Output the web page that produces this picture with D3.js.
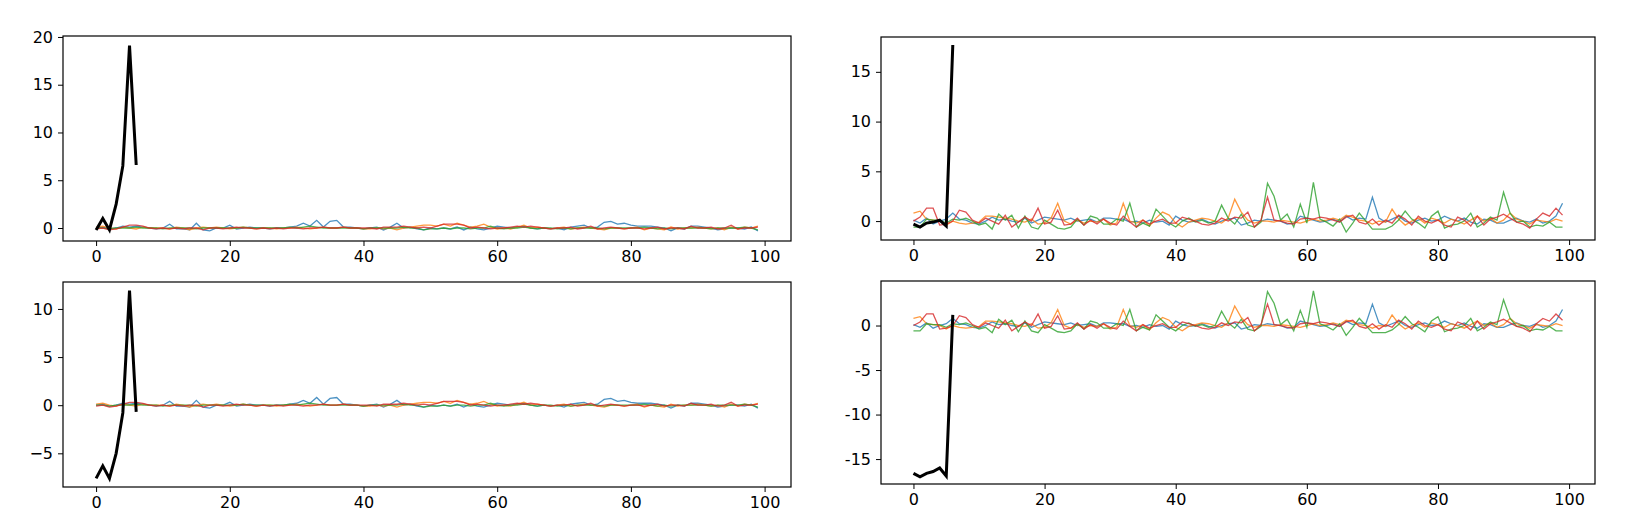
<!DOCTYPE html>
<html><head><meta charset="utf-8">
<script src="https://cdn.jsdelivr.net/npm/d3@7"></script>
<style>body{margin:0;background:#fff}text{font-family:"DejaVu Sans",sans-serif}</style>
</head><body><svg id="c" width="1636" height="526"></svg>
<script>
const xTicks=[0,20,40,60,80,100];
const blackTL=[-0.2,1.0,-0.2,2.5,6.5,19.1,6.6];
const blackTR=[-0.3,-0.6,-0.2,-0.1,0.1,-0.5,17.7];
const blackBL=[-7.6,-6.3,-7.6,-5.0,-0.8,11.9,-0.7];
const blackBR=[-16.6,-17.0,-16.6,-16.4,-16.0,-16.9,1.2];
const leftBlue=[0,0.1,-0.1,0,0.2,0.1,0.2,0.1,0,-0.1, 0,0.4,-0.1,-0.1,-0.2,0.5,-0.2,-0.3,0,0, 0.3,-0.1,0,0.1,0,0,-0.1,0,0,0.1, 0.2,0.5,0.2,0.8,0.1,0.7,0.8,0.1,0.1,0, -0.1,0,0.1,-0.2,0.1,0.5,0,0.1,-0.1,-0.2, 0,-0.1,0,-0.1,0.1,-0.2,0.1,-0.1,-0.2,0, 0.2,0.1,0,0.1,0.2,0,-0.1,0,-0.1,0, -0.2,0.1,0.2,0.3,0,0.1,0.6,0.7,0.4,0.5, 0.3,0.2,0.2,0.2,0.1,0,-0.3,0,-0.1,0.2, 0.2,0.1,0,-0.2,-0.1,0,0,-0.1,0.1,-0.3];
const leftOrange=[0.1,0.2,0,-0.1,0.1,0,-0.1,0.1,0,0, 0,-0.1,0.1,0,-0.2,0,0.1,0,0.1,0, -0.1,0,0.1,0,-0.1,0,0,-0.1,0,0, 0.1,0,-0.1,0,0.1,0,0,0.1,0,0, -0.1,-0.1,0,-0.1,0,-0.2,0,0.1,0.2,0.3, 0.3,0.2,0.4,0.2,0.5,0.3,0.1,0.2,0.4,0.1, -0.1,0,-0.1,0.1,0.3,0,0.1,0,-0.1,0, 0.1,-0.1,0,0.1,0,-0.1,-0.2,0,0,-0.1, 0,0.1,-0.2,0,-0.1,-0.2,0.1,-0.1,0,0, 0.1,0,-0.1,0,-0.2,0.1,-0.1,0.1,0,0.2];
const leftGreen=[0,0,-0.1,0,0,0,0.1,0,0,0, -0.1,0,0,0,0,-0.1,0,0,0,0, 0,0,0.1,0,0,0,0,0,0,0.1, 0,0.1,0.2,0.1,0,0,0,0,0,0, -0.1,0,0,0,0,0,0.1,0,0,-0.2, -0.1,-0.1,0,-0.1,0,0,-0.1,0,0,0.2, 0,-0.1,0,0,0.1,0,-0.1,0,0,-0.1, 0,-0.1,0,0,0,0,-0.1,0,0,0, 0,0,0.1,0,-0.1,0,-0.1,0,0,0, 0,0,-0.1,0,0,0,0,0.1,0,-0.2];
const leftRed=[-0.1,0,-0.2,-0.1,0.1,0.3,0.3,0.2,0,-0.1, 0,-0.1,0,-0.1,0,0,-0.2,0,0,-0.1, 0,0.1,0,0,-0.1,0,-0.1,0,-0.1,0, 0,-0.1,0,0,0.1,0,0,0.1,0,0, 0,0,-0.1,0.1,0.1,0.1,0.2,0.1,0,0.1, 0,0.2,0.4,0.4,0.4,0.3,0,0.1,0,-0.1, 0,0,0.1,0.2,0.1,0.2,0.1,0,-0.1,0, 0,0.1,-0.1,0,0.2,-0.1,0,0.1,0,-0.1, 0,0,-0.1,0,0.1,-0.1,0,0,-0.1,0.2, 0,0,0.1,-0.1,0,0.3,-0.1,0,0,0.1];
const rightBlue=[0.1,-0.2,0.3,-0.3,0,0.2,0.8,0.2,0.1,-0.2, -0.3,0,0.4,0.1,0.2,0,-0.1,0.3,-0.2,0.1, 0.4,0.3,0.2,0.1,0.3,0,0.1,0.2,-0.1,0.3, 0.3,0.2,0.2,-0.1,0,-0.2,0.1,-0.1,0,-0.4, 0.5,0.1,-0.1,0,0.2,-0.1,-0.3,0,0.2,0.3, -0.4,-0.2,0.1,0,0.2,0.1,0,-0.3,-0.2,0.5, 0.3,0.1,-0.1,0,0.2,-0.1,0.5,0.1,0.3,0.2, 2.4,0.3,-0.1,0.2,0.5,0,-0.2,0.1,0.3,0, 0.1,0.5,0.2,0,0.3,-0.1,-0.3,0.2,0.1,-0.2, -0.2,0.1,0.3,0,-0.1,0.2,-0.2,0,0.5,1.8];
const rightOrange=[0.8,1.0,0.2,0.1,0,-0.4,0,-0.2,-0.3,-0.2, -0.1,0.5,0.5,0.4,0.3,0.2,0,-0.1,0.2,-0.3, -0.2,0.3,1.8,0,-0.3,0.1,-0.2,0,-0.1,0.2, -0.4,-0.2,1.8,0,-0.2,0.1,-0.5,0.3,0.9,0.6, -0.2,-0.6,-0.1,0.1,0.3,0.2,0,-0.2,0.3,2.2, 0.9,0.1,-0.2,0,0,-0.1,0.1,0,-0.1,-0.2, 0,0.2,0,0.1,0.3,0.1,0.6,0.4,0.1,0, -0.3,0,-0.1,1.2,0.2,-0.4,0,0.3,-0.2,0.3, 0.1,-0.2,0.2,0,-0.3,0.1,0.5,0,0.3,-0.2, 0.1,0.8,0.2,0,-0.3,0.1,0,-0.1,0.2,0];
const rightGreen=[-0.6,-0.6,0.2,0.1,0.1,-0.2,0.2,0.1,0.3,0, -0.4,-0.2,-0.8,0.7,0.1,0.6,-0.7,0.5,-0.6,-0.8, 0.1,-0.3,-0.7,-0.8,-0.6,0.2,-0.4,0.5,0.3,-0.3, -0.3,0.2,0,1.8,-0.6,-0.2,-0.5,1.2,0.5,-0.2, -0.6,0,0.3,-0.1,0.1,-0.2,0,1.6,0.3,-0.3, 0.7,-0.4,-0.6,-0.1,3.8,2.5,0.1,0.7,-0.6,1.7, -0.2,3.9,0.2,-0.1,-0.5,0.2,-1.1,-0.2,0.8,0, -0.8,-0.8,-0.8,-0.5,0.1,1.0,0.2,-0.2,-0.7,0.5, 1.0,-0.7,-0.4,-0.3,0,0.8,-0.6,-0.2,0.4,0.1, 2.9,0.8,-0.1,0,-0.6,-0.4,-0.5,-0.1,-0.6,-0.6];
const rightRed=[0,0.4,1.3,1.3,-0.4,-0.3,0,1.1,0.9,0.1, -0.2,0.3,0,-0.3,0.6,-0.6,-0.1,0.4,0,1.3, -0.3,-0.1,1.1,-0.4,-0.3,0.3,-0.4,0.1,-0.3,0.2, -0.2,-0.4,0.5,-0.1,-0.6,0.1,-0.3,0,0.2,-0.2, -0.2,0.4,0.2,0,-0.3,-0.4,-0.2,0.3,0,0.4, 0.3,0.9,-0.6,0.1,2.4,0.1,0,-0.2,-0.3,0.2, 0.3,0.2,0.4,0.3,0.1,-0.1,0.4,0.6,-0.1,-0.3, 0.2,-0.4,0.1,-0.2,0.6,0.2,-0.4,0.5,0,-0.2, 0.1,-0.4,-0.6,0.4,0.1,-0.5,0.5,-0.4,0.2,0.4, 0.7,0.3,-0.1,-0.3,-0.7,0.2,0.8,0.5,1.3,0.6];
const colors=["#1f77b4","#ff7f0e","#2ca02c","#d62728"];
const yTicksTL=[0,5,10,15,20], yTicksTR=[0,5,10,15], yTicksBL=[-5,0,5,10], yTicksBR=[-15,-10,-5,0];

const panels=[
 {x0:63,x1:791,y0:36,y1:241,yd:[-1.36,20.1],yt:yTicksTL,black:blackTL,series:[leftBlue,leftOrange,leftGreen,leftRed],minus:"\u2212"},
 {x0:881,x1:1595,y0:37,y1:240,yd:[-1.9,18.5],yt:yTicksTR,black:blackTR,series:[rightBlue,rightOrange,rightGreen,rightRed],minus:"-"},
 {x0:63,x1:791,y0:282,y1:487,yd:[-8.5,12.8],yt:yTicksBL,black:blackBL,series:[leftBlue,leftOrange,leftGreen,leftRed],minus:"\u2212"},
 {x0:881,x1:1595,y0:281,y1:484,yd:[-17.8,5],yt:yTicksBR,black:blackBR,series:[rightBlue,rightOrange,rightGreen,rightRed],minus:"-"}
];
const svg=d3.select("#c");
panels.forEach((p,i)=>{
  const x=d3.scaleLinear().domain([-4.95,103.95]).range([p.x0,p.x1]);
  const y=d3.scaleLinear().domain(p.yd).range([p.y1,p.y0]);
  const g=svg.append("g");
  const cid="clip"+i;
  g.append("clipPath").attr("id",cid).append("rect").attr("x",p.x0).attr("y",p.y0).attr("width",p.x1-p.x0).attr("height",p.y1-p.y0);
  const pl=g.append("g").attr("clip-path",`url(#${cid})`);
  const line=d3.line().x((d,j)=>x(j)).y(d=>y(d));
  p.series.forEach((s,k)=>pl.append("path").attr("d",line(s)).attr("fill","none").attr("stroke",colors[k]).attr("stroke-opacity",0.8).attr("stroke-width",1.3));
  pl.append("path").attr("d",line(p.black)).attr("fill","none").attr("stroke","#000").attr("stroke-width",3);
  const ax=g.append("g").attr("transform",`translate(0,${p.y1})`).call(d3.axisBottom(x).tickValues(xTicks).tickSize(5).tickPadding(5));
  const ay=g.append("g").attr("transform",`translate(${p.x0},0)`).call(d3.axisLeft(y).tickValues(p.yt).tickSize(5).tickPadding(5).tickFormat(d=>d<0?p.minus+Math.abs(d):d));
  [ax,ay].forEach(a=>{a.select(".domain").remove();a.selectAll("text").attr("font-size",16).attr("fill","#000");a.selectAll("line").attr("stroke","#000");});
  g.append("rect").attr("x",p.x0).attr("y",p.y0).attr("width",p.x1-p.x0).attr("height",p.y1-p.y0).attr("fill","none").attr("stroke","#000").attr("stroke-width",1.2);
});
</script></body></html>
